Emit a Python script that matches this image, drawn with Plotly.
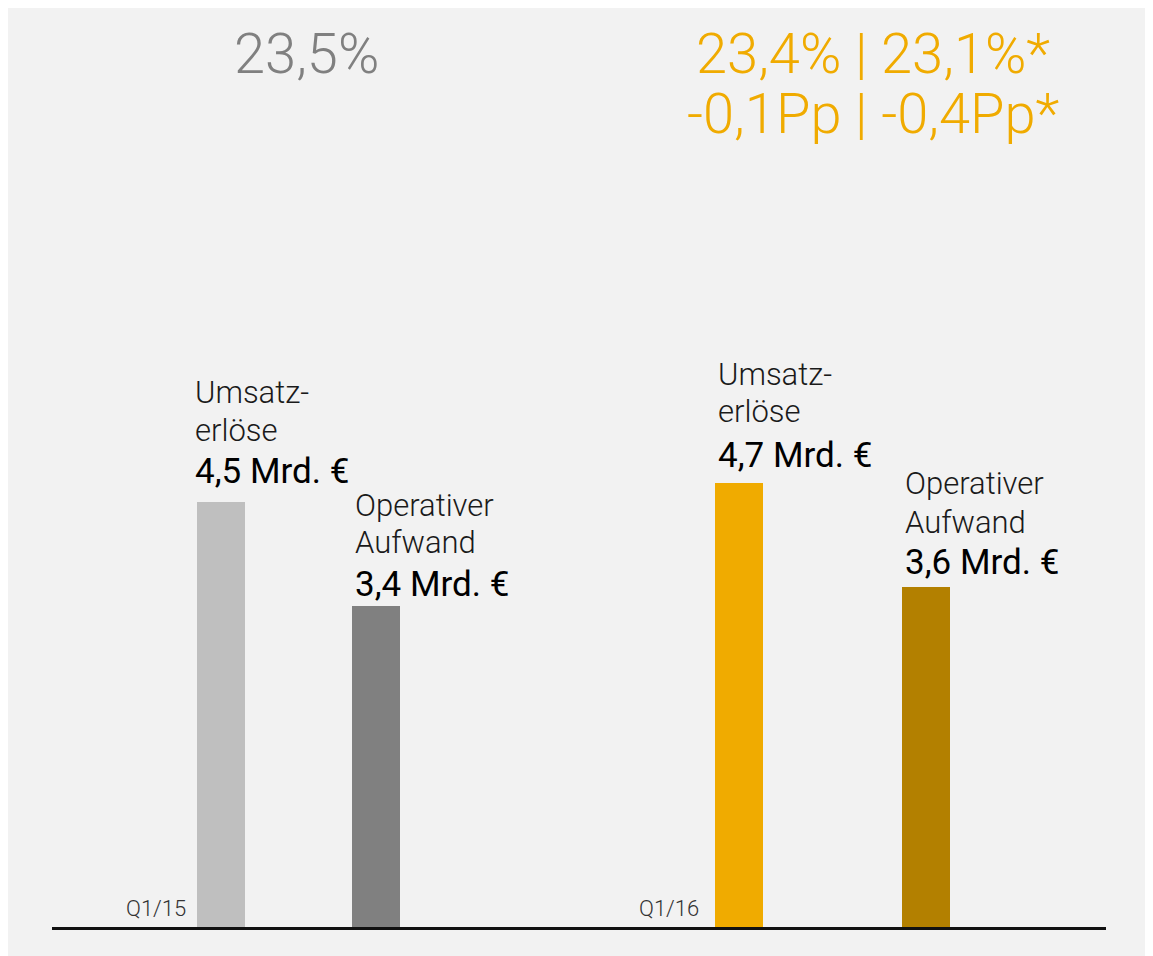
import plotly.graph_objects as go

# Daten
periods = ["Q1/15", "Q1/16"]
revenue = [4.5, 4.7]          # Umsatzerlöse, Mrd. €
opex = [3.4, 3.6]             # Operativer Aufwand, Mrd. €
margin_lines = [["23,5%"], ["23,4% | 23,1%*", "-0,1Pp | -0,4Pp*"]]
rev_label = ["Umsatz-", "erlöse"]
opex_label = ["Operativer", "Aufwand"]

# Darstellung
rev_colors = ["#bfbfbf", "#f0ab00"]
opex_colors = ["#808080", "#b38000"]
head_colors = ["#808080", "#f0ab00"]
rev_pos = [169, 687]
opex_pos = [324, 874]
FONT = "Roboto"


def mrd(v):
    return f"{v:.1f}".replace(".", ",") + " Mrd. €"


fig = go.Figure()
fig.add_trace(go.Bar(x=rev_pos, y=revenue, width=48, marker_color=rev_colors,
                     marker_line_width=0, hoverinfo="skip"))
fig.add_trace(go.Bar(x=opex_pos, y=opex, width=48, marker_color=opex_colors,
                     marker_line_width=0, hoverinfo="skip"))

ann = []
light = dict(family=FONT, size=31, color="#1a1a1a", weight=300)
bold = dict(family=FONT, size=35, color="#000000", weight=400)
# (x-Verschiebung, y-Verschiebungen der drei Zeilen) je Balken
rev_shift = [(-28, [110, 72, 31]), (-23, [109, 72, 28])]
opex_shift = [(-23, [100, 63, 21]), (-23, [104, 65, 25])]
for i in range(len(periods)):
    for pos, val, lab, (xs, ys) in [(rev_pos[i], revenue[i], rev_label, rev_shift[i]),
                                    (opex_pos[i], opex[i], opex_label, opex_shift[i])]:
        for txt, yshift, f in zip(lab + [mrd(val)], ys, [light, light, bold]):
            ann.append(dict(x=pos, y=val, text=txt, showarrow=False, xanchor="left",
                            yanchor="middle", xshift=xs, yshift=yshift, font=f))
    # Periode
    ann.append(dict(x=rev_pos[i], y=0, text=periods[i], showarrow=False, xanchor="right",
                    yanchor="middle", xshift=-33 if i == 0 else -38, yshift=19,
                    font=dict(family=FONT, size=22, color="#333333", weight=300)))

# Kopfzeilen (Marge)
head_x = [0.241, 0.779]
head_y = [1.027, 0.956]
for i, lines in enumerate(margin_lines):
    for j, txt in enumerate(lines):
        ann.append(dict(x=head_x[i], y=head_y[j], xref="paper", yref="paper", text=txt,
                        showarrow=False, xanchor="center", yanchor="middle",
                        font=dict(family=FONT, size=56, color=head_colors[i], weight=300)))

fig.update_layout(
    width=1153, height=956,
    margin=dict(l=44, r=55, t=69, b=37),
    paper_bgcolor="#f2f2f2",
    plot_bgcolor="#f2f2f2",
    showlegend=False,
    bargap=0,
    annotations=ann,
    xaxis=dict(range=[0, 1054], showticklabels=False, showgrid=False, zeroline=False,
               showline=True, linecolor="#111111", linewidth=3, fixedrange=True),
    yaxis=dict(range=[0, 9], visible=False, showgrid=False, fixedrange=True),
)

fig.write_html("out.html")
